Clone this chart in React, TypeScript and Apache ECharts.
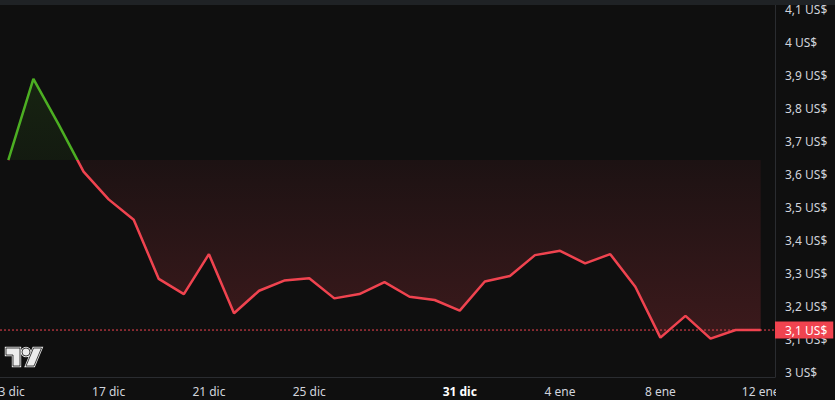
import React, { useEffect, useRef } from "react";
import * as echarts from "echarts";

const dates: string[] = [
  "13 dic", "14 dic", "15 dic", "16 dic", "17 dic", "18 dic", "19 dic", "20 dic",
  "21 dic", "22 dic", "23 dic", "24 dic", "25 dic", "26 dic", "27 dic", "28 dic",
  "29 dic", "30 dic", "31 dic", "1 ene", "2 ene", "3 ene", "4 ene", "5 ene",
  "6 ene", "7 ene", "8 ene", "9 ene", "10 ene", "11 ene", "12 ene",
];
const prices: number[] = [
  3.643, 3.889, 3.752, 3.608, 3.524, 3.462, 3.283, 3.237, 3.358, 3.179, 3.247,
  3.278, 3.285, 3.224, 3.237, 3.273, 3.229, 3.219, 3.187, 3.275, 3.292, 3.355,
  3.368, 3.33, 3.358, 3.259, 3.105, 3.171, 3.102, 3.128, 3.128,
];
const xLabelIdx: number[] = [0, 4, 8, 12, 18, 22, 26, 30];
const boldLabelIdx: number[] = [18];
const yTicks: number[] = [3.0, 3.1, 3.2, 3.3, 3.4, 3.5, 3.6, 3.7, 3.8, 3.9, 4.0, 4.1];

const X_MIN = -0.331;
const X_MAX = 30.57;
const Y_MIN = 2.9857;
const Y_MAX = 4.113;

const GREEN = "#4caf22";
const RED = "#f0434f";
const BG = "#0f0f0f";
const TEXT = "#d1d4dc";
const FONT = "'Noto Sans', sans-serif";

const LOGO_D =
  "M14 22H7V11H0V4h14v18zM28 22h-8l7.5-18h8L28 22zM24 8a4 4 0 1 1-8 0a4 4 0 0 1 8 0z";

function fmtPrice(v: number): string {
  return (Math.round(v * 10) / 10).toString().replace(".", ",") + " US$";
}

export default function App() {
  const ref = useRef<HTMLDivElement>(null);
  useEffect(() => {
    if (!ref.current) return;
    echarts.graphic.registerShape("tvlogo", echarts.graphic.extendPath(LOGO_D, {}) as any);
    const chart = echarts.init(ref.current, null, { renderer: "svg" });
    const base = prices[0];
    const maxV = Math.max(...prices);
    const minV = Math.min(...prices);
    const f = (maxV - base) / (maxV - minV);
    const last = prices[prices.length - 1];

    const lineGrad = new echarts.graphic.LinearGradient(0, 0, 0, 1, [
      { offset: 0, color: GREEN },
      { offset: f, color: GREEN },
      { offset: f, color: RED },
      { offset: 1, color: RED },
    ]);
    const areaGrad = new echarts.graphic.LinearGradient(0, 0, 0, 1, [
      { offset: 0, color: "rgba(76,175,34,0.13)" },
      { offset: f, color: "rgba(76,175,34,0.07)" },
      { offset: f, color: "rgba(240,67,79,0.06)" },
      { offset: 1, color: "rgba(240,67,79,0.2)" },
    ]);

    chart.setOption({
      animation: false,
      backgroundColor: BG,
      textStyle: { fontFamily: FONT },
      grid: { left: 0, right: 60, top: 5, bottom: 23, outerBoundsMode: "none", containLabel: false },
      xAxis: {
        type: "value",
        min: X_MIN,
        max: X_MAX,
        splitLine: { show: false },
        axisTick: { show: false },
        axisLine: { show: true, onZero: false, lineStyle: { color: "#2a2c30", width: 1 } },
        axisLabel: {
          customValues: xLabelIdx,
          margin: 8,
          color: TEXT,
          fontSize: 12,
          fontFamily: FONT,
          hideOverlap: false,
          formatter: (v: number) => {
            const i = Math.round(v);
            return boldLabelIdx.includes(i) ? `{b|${dates[i]}}` : dates[i];
          },
          rich: { b: { fontWeight: "bold", color: "#ffffff", fontSize: 12, fontFamily: FONT } },
        },
      },
      yAxis: {
        type: "value",
        position: "right",
        min: Y_MIN,
        max: Y_MAX,
        splitLine: { show: false },
        axisTick: { show: false },
        axisLine: { show: true, onZero: false, lineStyle: { color: "#2a2c30", width: 1 } },
        axisLabel: {
          customValues: yTicks,
          margin: 10,
          color: TEXT,
          fontSize: 12,
          fontFamily: FONT,
          hideOverlap: false,
          formatter: (v: number) => fmtPrice(v),
        },
      },
      series: [
        {
          type: "line",
          data: prices.map((p, i) => [i, p]),
          showSymbol: false,
          symbol: "none",
          lineStyle: { width: 2.5, color: lineGrad },
          itemStyle: { color: RED },
          areaStyle: { origin: base, color: areaGrad, opacity: 1 },
          z: 3,
        },
        {
          type: "line",
          data: [[X_MIN, last], [X_MAX, last]],
          symbol: "none",
          showSymbol: false,
          silent: true,
          itemStyle: { color: RED },
          lineStyle: { color: RED, width: 1, type: [2, 2] },
          z: 4,
          endLabel: {
            show: true,
            distance: 0,
            formatter: () => fmtPrice(last),
            color: "#ffffff",
            backgroundColor: RED,
            fontSize: 12,
            fontFamily: FONT,
            lineHeight: 13,
            padding: [2, 6, 2, 10],
          },
        },
      ],
      graphic: [
        { type: "rect", left: 0, top: 0, shape: { width: 835, height: 5 }, style: { fill: "#1f2225" }, z: 10 },
        { type: "rect", shape: { x: 776, y: 378, width: 59, height: 22 }, style: { fill: BG }, z: 10 },
        {
          type: "tvlogo",
          x: 6,
          y: 344,
          style: { fill: "#e8e8e8", stroke: "#e8e8e8", lineWidth: 2.4, lineJoin: "miter" },
          z: 10,
        },
        {
          type: "tvlogo",
          x: 6,
          y: 344,
          style: { fill: "#ececec", stroke: "#151515", lineWidth: 0.8 },
          z: 11,
        },
      ],
    });
    return () => chart.dispose();
  }, []);
  return (
    <div
      ref={ref}
      style={{ position: "fixed", left: 0, top: 0, width: 835, height: 400 }}
    />
  );
}
